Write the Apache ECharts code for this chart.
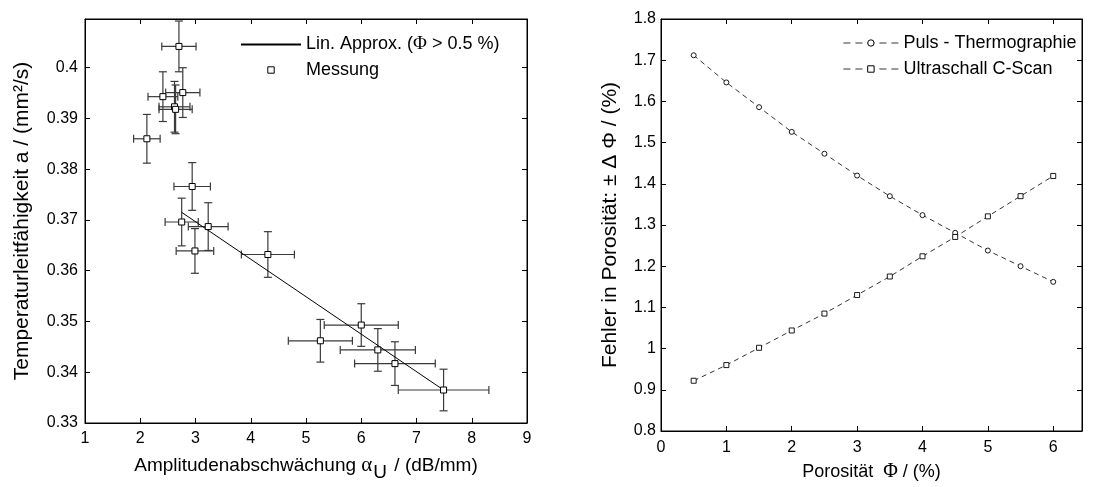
<!DOCTYPE html>
<html>
<head>
<meta charset="utf-8">
<script src="https://cdn.jsdelivr.net/npm/echarts@6/dist/echarts.min.js"></script>
<style>
  html, body { margin: 0; padding: 0; background: #fff; }
  #chart { width: 1116px; height: 487px; }
</style>
</head>
<body>
<div id="chart"></div>
<script>
// linkes Diagramm: Messpunkte mit Fehlerbalken
var measX    = [2.70, 2.41, 2.77, 2.62, 2.64, 2.12, 2.94, 2.75, 3.23, 2.99, 4.31, 6.00, 5.26, 6.30, 6.61, 7.49];
var measY    = [0.4042, 0.3943, 0.3951, 0.3923, 0.3918, 0.3860, 0.3766, 0.3696, 0.3687, 0.3639, 0.3632, 0.3493, 0.3462, 0.3444, 0.3417, 0.3365];
var measXErr = [0.31, 0.27, 0.31, 0.28, 0.30, 0.24, 0.33, 0.30, 0.36, 0.34, 0.48, 0.67, 0.58, 0.68, 0.73, 0.82];
var measYErr = [0.0050, 0.0049, 0.0049, 0.0050, 0.0048, 0.0048, 0.0047, 0.0047, 0.0047, 0.0044, 0.0045, 0.0042, 0.0042, 0.0042, 0.0043, 0.0041];
// lineare Approximation
var fitX = [2.75, 7.49];
var fitY = [0.3715, 0.3365];
var leftXTicks = [1, 2, 3, 4, 5, 6, 7, 8, 9];
var leftYTicks = [0.33, 0.34, 0.35, 0.36, 0.37, 0.38, 0.39, 0.4];

// rechtes Diagramm
var porositaet = [0.5, 1, 1.5, 2, 2.5, 3, 3.5, 4, 4.5, 5, 5.5, 6];
var pulsThermo = [1.712, 1.646, 1.586, 1.526, 1.473, 1.420, 1.370, 1.324, 1.281, 1.238, 1.200, 1.162];
var ultraschall = [0.922, 0.960, 1.002, 1.044, 1.085, 1.130, 1.175, 1.224, 1.271, 1.321, 1.370, 1.419];
var rightXTicks = [0, 1, 2, 3, 4, 5, 6];
var rightYTicks = [0.8, 0.9, 1, 1.1, 1.2, 1.3, 1.4, 1.5, 1.6, 1.7, 1.8];

var FONT = 'Liberation Sans';
var GREEK = 'Liberation Serif';
var TICK_FS = 16;

function pairs(xs, ys) {
    return xs.map(function (x, i) { return [x, ys[i]]; });
}

// Achse mit Beschriftung
function mainAxis(grid, pos, min, max, ticks, name, nameGap, extra) {
    var ax = {
        type: 'value',
        gridIndex: grid,
        position: pos,
        min: min,
        max: max,
        name: name,
        nameLocation: 'middle',
        nameGap: nameGap,
        nameTextStyle: { fontFamily: FONT, fontSize: 18, color: '#000' },
        axisLine: { show: true, onZero: false, lineStyle: { color: '#000', width: 1 } },
        axisTick: { show: true, inside: true, length: 5, customValues: ticks, lineStyle: { color: '#000' } },
        axisLabel: { show: true, customValues: ticks, fontFamily: FONT, fontSize: TICK_FS, color: '#000', margin: 8 },
        splitLine: { show: false }
    };
    if (extra) {
        for (var k in extra) {
            if (k === 'nameTextStyle' || k === 'axisLabel') {
                for (var j in extra[k]) ax[k][j] = extra[k][j];
            } else {
                ax[k] = extra[k];
            }
        }
    }
    return ax;
}

// gespiegelte Achse (oben / rechts), nur Striche
function mirrorAxis(grid, pos, min, max, ticks) {
    return {
        type: 'value',
        gridIndex: grid,
        position: pos,
        min: min,
        max: max,
        axisLine: { show: true, onZero: false, lineStyle: { color: '#000', width: 1 } },
        axisTick: { show: true, inside: true, length: 5, customValues: ticks, lineStyle: { color: '#000' } },
        axisLabel: { show: false },
        splitLine: { show: false }
    };
}

var dom = document.getElementById('chart');
var myChart = echarts.init(dom, null, { renderer: 'canvas' });

var legendText = {
    fontFamily: FONT, fontSize: 18, color: '#000',
    rich: { g: { fontFamily: GREEK, fontSize: 19, color: '#000' } }
};
var legendSym = { color: '#fff', borderColor: '#000', borderWidth: 1 };
var legendDash = { color: '#000', width: 0.8, type: [7, 5] };

myChart.setOption({
    animation: false,
    backgroundColor: '#fff',
    textStyle: { fontFamily: FONT },
    grid: [
        { left: 85, top: 19, width: 442, height: 407, show: true, borderColor: '#000', borderWidth: 1, backgroundColor: '#fff' },
        { left: 661, top: 19, width: 421, height: 415, show: true, borderColor: '#000', borderWidth: 1, backgroundColor: '#fff' }
    ],
    legend: [
        {
            orient: 'vertical',
            left: 240,
            top: 35,
            padding: 0,
            itemGap: 7,
            itemWidth: 60,
            itemHeight: 8,
            textStyle: legendText,
            data: [
                { name: 'Lin. Approx. (Φ > 0.5 %)', itemStyle: { opacity: 0 } },
                { name: 'Messung', lineStyle: { opacity: 0 }, itemStyle: legendSym }
            ],
            formatter: function (n) { return n.replace('Φ', '{g|Φ}'); },
            selectedMode: false
        },
        {
            orient: 'vertical',
            left: 843,
            top: 34,
            padding: 0,
            itemGap: 8,
            itemWidth: 55,
            itemHeight: 8,
            textStyle: legendText,
            data: [
                { name: 'Puls - Thermographie', itemStyle: legendSym, lineStyle: legendDash },
                { name: 'Ultraschall C-Scan', itemStyle: legendSym, lineStyle: legendDash }
            ],
            selectedMode: false
        }
    ],
    xAxis: [
        mainAxis(0, 'bottom', 1, 9, leftXTicks,
            'Amplitudenabschwächung {g|α}{sub|U} / (dB/mm)', 26, {
                nameTextStyle: {
                    fontSize: 19,
                    rich: {
                        g: { fontFamily: GREEK, fontSize: 21, color: '#000' },
                        sub: { fontFamily: FONT, fontSize: 19, color: '#000', padding: [14, 2, 0, 1] }
                    }
                }
            }),
        mainAxis(1, 'bottom', 0, 6.44, rightXTicks,
            'Porosität  {g|Φ} / (%)', 31, {
                nameTextStyle: {
                    rich: { g: { fontFamily: GREEK, fontSize: 20, color: '#000' } }
                },
                axisLabel: { margin: 9 }
            }),
        mirrorAxis(0, 'top', 1, 9, leftXTicks),
        mirrorAxis(1, 'top', 0, 6.44, rightXTicks)
    ],
    yAxis: [
        mainAxis(0, 'left', 0.33, 0.4096, leftYTicks,
            'Temperaturleitfähigkeit a / (mm²/s)', 52, {
                nameTextStyle: { fontSize: 21 },
                axisLabel: { margin: 7 }
            }),
        mainAxis(1, 'left', 0.8, 1.8, rightYTicks,
            'Fehler in Porosität: ± Δ Φ / (%)', 40, {
                nameTextStyle: { fontSize: 21 },
                axisLabel: { margin: 5 }
            }),
        mirrorAxis(0, 'right', 0.33, 0.4096, leftYTicks),
        mirrorAxis(1, 'right', 0.8, 1.8, rightYTicks)
    ],
    series: [
        {
            name: 'Fehlerbalken',
            type: 'custom',
            xAxisIndex: 0,
            yAxisIndex: 0,
            clip: true,
            z: 2,
            data: measX.map(function (x, i) { return [x, measY[i], measXErr[i], measYErr[i]]; }),
            renderItem: function (params, api) {
                var x = api.value(0), y = api.value(1), ex = api.value(2), ey = api.value(3);
                var l = api.coord([x - ex, y]), r = api.coord([x + ex, y]);
                var t = api.coord([x, y + ey]), b = api.coord([x, y - ey]);
                var c = 4;
                var st = { stroke: '#3a3a3a', lineWidth: 1.2 };
                function seg(x1, y1, x2, y2) {
                    return { type: 'line', shape: { x1: x1, y1: y1, x2: x2, y2: y2 }, style: st };
                }
                return {
                    type: 'group',
                    children: [
                        seg(l[0], l[1], r[0], r[1]),
                        seg(l[0], l[1] - c, l[0], l[1] + c),
                        seg(r[0], r[1] - c, r[0], r[1] + c),
                        seg(t[0], t[1], b[0], b[1]),
                        seg(t[0] - c, t[1], t[0] + c, t[1]),
                        seg(b[0] - c, b[1], b[0] + c, b[1])
                    ]
                };
            }
        },
        {
            name: 'Lin. Approx. (Φ > 0.5 %)',
            type: 'line',
            xAxisIndex: 0,
            yAxisIndex: 0,
            data: pairs(fitX, fitY),
            showSymbol: false,
            symbol: 'circle',
            lineStyle: { color: '#000', width: 1 },
            itemStyle: { color: '#000' },
            z: 3
        },
        {
            name: 'Messung',
            type: 'line',
            xAxisIndex: 0,
            yAxisIndex: 0,
            data: pairs(measX, measY),
            symbol: 'rect',
            symbolSize: 6,
            lineStyle: { opacity: 0 },
            itemStyle: { color: '#fff', borderColor: '#000', borderWidth: 1 },
            z: 5
        },
        {
            name: 'Puls - Thermographie',
            type: 'line',
            xAxisIndex: 1,
            yAxisIndex: 1,
            data: pairs(porositaet, pulsThermo),
            symbol: 'circle',
            symbolSize: 5,
            lineStyle: { color: '#000', width: 0.8, type: [5, 4] },
            itemStyle: { color: '#fff', borderColor: '#000', borderWidth: 0.9 },
            z: 4
        },
        {
            name: 'Ultraschall C-Scan',
            type: 'line',
            xAxisIndex: 1,
            yAxisIndex: 1,
            data: pairs(porositaet, ultraschall),
            symbol: 'rect',
            symbolSize: 5,
            lineStyle: { color: '#000', width: 0.8, type: [5, 4] },
            itemStyle: { color: '#fff', borderColor: '#000', borderWidth: 0.9 },
            z: 4
        }
    ]
});

window.addEventListener('resize', function () {
    myChart.resize();
});
</script>
</body>
</html>
